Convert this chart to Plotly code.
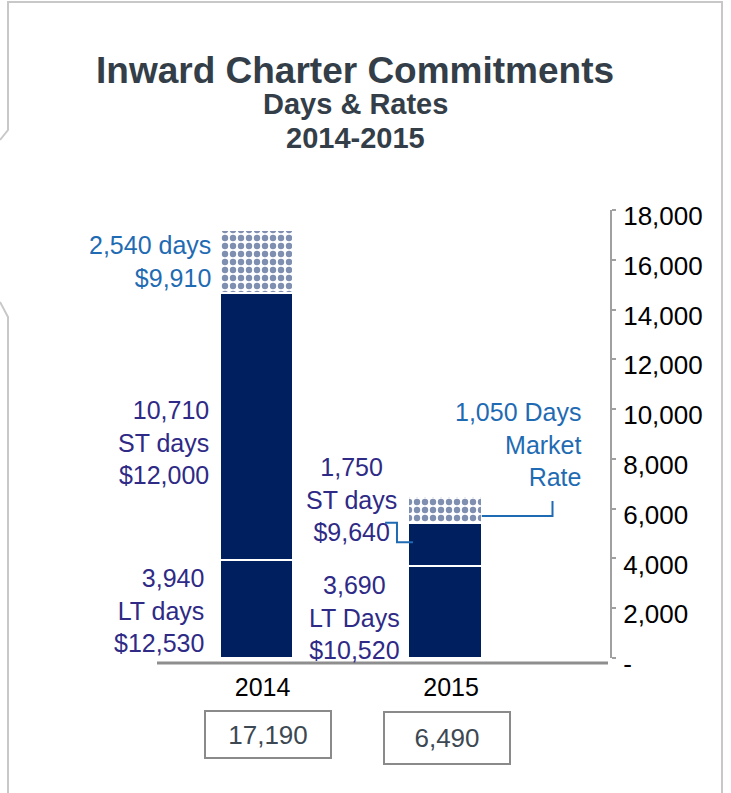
import plotly.graph_objects as go

# ---------------- data ----------------
years = ["2014", "2015"]
lt_days = [3940, 3690]
st_days = [10710, 1750]
market_days = [2540, 1050]
lt_rates = ["$12,530", "$10,520"]
st_rates = ["$12,000", "$9,640"]
market_rates = ["$9,910", None]
y_ticks = [0, 2000, 4000, 6000, 8000, 10000, 12000, 14000, 16000, 18000]
y_ticktext = ["-"] + [f"{v:,}" for v in y_ticks[1:]]

# ---------------- layout geometry ----------------
W, H = 731, 793
ML, MR, MT, MB = 157, 121, 210, 135
PW, PH = W - ML - MR, H - MT - MB
XR = [-0.528, 1.875]
YR = [0, 18000]
BAR_W = 0.39


def px2paper(px, py):
    return (px - ML) / PW, (H - MB - py) / PH


NAVY = "#001F5F"
PURPLE = "#2E2A86"
BLUE = "#1F6BB3"
GREY_TXT = "#3C4852"
TITLE = "#333E48"
FONT = "Liberation Sans, Arial, sans-serif"

xs = list(range(len(years)))
totals = [a + b + c for a, b, c in zip(lt_days, st_days, market_days)]

fig = go.Figure()
fig.add_bar(x=xs, y=lt_days, width=BAR_W, marker=dict(color=NAVY, line=dict(color="white", width=2)),
            hoverinfo="skip")
fig.add_bar(x=xs, y=st_days, width=BAR_W, marker=dict(color=NAVY, line=dict(color="white", width=2)),
            hoverinfo="skip")
fig.add_bar(x=xs, y=market_days, width=BAR_W,
            marker=dict(color="white", line=dict(color="white", width=2),
                        pattern=dict(shape=".", fgcolor=NAVY, bgcolor="white", size=8, solidity=0.5,
                                     fillmode="overlay")),
            hoverinfo="skip")

ann = []
# 2014 labels
ann.append(dict(x=0, y=lt_days[0] + st_days[0] + market_days[0] / 2, xref="x", yref="y",
                text=f"{market_days[0]:,} days<br>{market_rates[0]}", xanchor="right", align="right",
                xshift=-44, yshift=0, font=dict(color=BLUE, size=25)))
ann.append(dict(x=0, y=lt_days[0] + st_days[0] / 2, xref="x", yref="y",
                text=f"{st_days[0]:,}<br>ST days<br>{st_rates[0]}", xanchor="right", align="right",
                xshift=-46, yshift=-16, font=dict(color=PURPLE, size=25)))
ann.append(dict(x=0, y=lt_days[0] / 2, xref="x", yref="y",
                text=f"{lt_days[0]:,}<br>LT days<br>{lt_rates[0]}", xanchor="right", align="right",
                xshift=-51, yshift=-2, font=dict(color=PURPLE, size=25)))
# 2015 labels
ann.append(dict(x=1, y=lt_days[1] + st_days[1] / 2, xref="x", yref="y",
                text=f"{st_days[1]:,}<br>ST days<br>{st_rates[1]}", xanchor="center", align="center",
                xshift=-94, yshift=45, font=dict(color=PURPLE, size=25)))
ann.append(dict(x=1, y=lt_days[1] / 2, xref="x", yref="y",
                text=f"{lt_days[1]:,}<br>LT Days<br>{lt_rates[1]}", xanchor="center", align="center",
                xshift=-91, yshift=-5, font=dict(color=PURPLE, size=25)))
ann.append(dict(x=1, y=lt_days[1] + st_days[1] + market_days[1] / 2, xref="x", yref="y",
                text=f"{market_days[1]:,} Days<br>Market<br>Rate", xanchor="right", align="right",
                xshift=139, yshift=65, font=dict(color=BLUE, size=25)))

# total boxes
box_geom = [(11, 734, 122, 43), (2, 738, 122, 48)]
for i, (dx, cy, bw, bh) in enumerate(box_geom):
    ann.append(dict(x=xs[i], y=px2paper(0, cy)[1], xref="x", yref="paper", text=f"{totals[i]:,}",
                    showarrow=False, xshift=dx, width=bw, height=bh, borderwidth=2, borderpad=1,
                    bordercolor="#8A8A8A", font=dict(color=GREY_TXT, size=26)))

# titles
for txt, py, sz in [("Inward Charter Commitments", 70, 37), ("Days & Rates", 104, 29), ("2014-2015", 138, 29)]:
    xp, yp = px2paper(355, py)
    ann.append(dict(x=xp, y=yp, xref="paper", yref="paper", text=f"<b>{txt}</b>", showarrow=False,
                    xanchor="center", yanchor="middle", font=dict(color=TITLE, size=sz)))

for a in ann:
    a.setdefault("showarrow", False)
    a.setdefault("yanchor", "middle")

shapes = []
# leader lines (data coordinates)
b1 = lt_days[1] + st_days[1]
shapes.append(dict(type="path", xref="x", yref="y",
                   path=f"M {1 + BAR_W / 2} {b1 + 0.25 * market_days[1]} L 1.57 {b1 + 0.25 * market_days[1]} "
                        f"L 1.57 {b1 + 0.83 * market_days[1]}",
                   line=dict(color=BLUE, width=2)))
shapes.append(dict(type="path", xref="x", yref="y",
                   path=f"M 0.682 {b1 - 10} L 0.745 {b1 - 10} L 0.745 {lt_days[1] + st_days[1] * 0.55} "
                        f"L 0.83 {lt_days[1] + st_days[1] * 0.55}",
                   line=dict(color=BLUE, width=2)))
# baseline
x0p, y0p = px2paper(157, 663)
x1p, _ = px2paper(608, 663)
shapes.append(dict(type="line", xref="paper", yref="paper", x0=x0p, x1=x1p, y0=y0p, y1=y0p,
                   line=dict(color="#8E8E8E", width=3)))
# outer frame
fx = [(0, 140), (8, 130), (8, 2), (722, 2), (722, 793)]
p = " L ".join(f"{px2paper(a, b)[0]} {px2paper(a, b)[1]}" for a, b in fx)
shapes.append(dict(type="path", xref="paper", yref="paper", path="M " + p, line=dict(color="#C8C8C8", width=2)))
fx2 = [(0, 302), (8, 317), (8, 793)]
p2 = " L ".join(f"{px2paper(a, b)[0]} {px2paper(a, b)[1]}" for a, b in fx2)
shapes.append(dict(type="path", xref="paper", yref="paper", path="M " + p2, line=dict(color="#C8C8C8", width=2)))

fig.update_layout(
    width=W, height=H, margin=dict(l=ML, r=MR, t=MT, b=MB, autoexpand=False),
    barmode="stack", showlegend=False, bargap=0,
    paper_bgcolor="white", plot_bgcolor="white",
    font=dict(family=FONT, size=25, color="black"),
    annotations=ann, shapes=shapes,
    xaxis=dict(range=XR, tickvals=xs, ticktext=years, showgrid=False, zeroline=False, showline=False,
               ticks="", ticklabelshift=6, ticklabelstandoff=12, tickfont=dict(size=25, color="black"),
               fixedrange=True),
    yaxis=dict(range=YR, side="right", tickvals=y_ticks, ticktext=y_ticktext, showgrid=False, zeroline=False,
               showline=True, linecolor="#A0A0A0", linewidth=2, ticks="outside", ticklen=4, tickwidth=2,
               tickcolor="#A0A0A0", ticklabelshift=6, ticklabelstandoff=2,
               tickfont=dict(size=26, color="black"), fixedrange=True),
)

fig.write_html("out.html", config={"displayModeBar": False},
               post_script="document.body.style.margin='0px';document.body.style.overflow='hidden';")
